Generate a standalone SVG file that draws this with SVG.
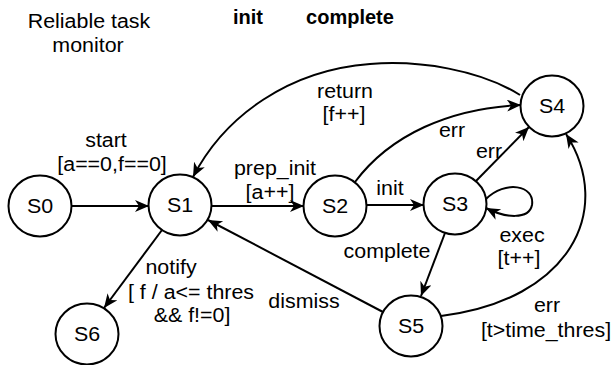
<svg xmlns="http://www.w3.org/2000/svg" width="612" height="365" viewBox="0 0 612 365">
<defs>
<marker id="arr" markerUnits="userSpaceOnUse" markerWidth="16" markerHeight="14" refX="14" refY="6" orient="auto">
<path d="M0,0 L14,6 L0,12 L4,6 z" fill="#000"/>
</marker>
<style>
.n{fill:#fff;stroke:#000;stroke-width:2}
.e{fill:none;stroke:#000;stroke-width:2;marker-end:url(#arr)}
.t{font-family:"Liberation Sans",Arial,sans-serif;font-size:20px;text-anchor:middle;fill:#000}
.b{font-family:"Liberation Sans",Arial,sans-serif;font-size:20px;font-weight:bold;text-anchor:middle;fill:#000}
</style>
</defs>
<rect width="612" height="365" fill="#fff"/>
<g id="title">
<text class="t" transform="translate(89,28) scale(1.07,1)">Reliable task</text>
<text class="t" transform="translate(88,52) scale(1.07,1)">monitor</text>
<text class="b" x="248" y="24">init</text>
<text class="b" x="350" y="24">complete</text>
</g>
<g id="connectors">
<g id="e-s0-s1"><path class="e" d="M72,206 L149,206"/>
<text class="t" transform="translate(106,147) scale(1.07,1)">start</text>
<text class="t" transform="translate(112,171) scale(1.07,1)">[a==0,f==0]</text></g>
<g id="e-s1-s2"><path class="e" d="M212,206 L304,206"/>
<text class="t" transform="translate(275,175) scale(1.07,1)">prep_init</text>
<text class="t" transform="translate(270,199) scale(1.07,1)">[a++]</text></g>
<g id="e-s2-s3"><path class="e" d="M367,205 L424,205"/>
<text class="t" transform="translate(390,195) scale(1.07,1)">init</text></g>
<g id="e-s4-s1"><path class="e" d="M520,95 C480,70 420,60 370,64 C290,70 225,115 193,177"/>
<text class="t" transform="translate(345,98) scale(1.07,1)">return</text>
<text class="t" transform="translate(344,121) scale(1.07,1)">[f++]</text></g>
<g id="e-s2-s4"><path class="e" d="M355,182 C390,135 450,108 521,105"/>
<text class="t" transform="translate(452,137) scale(1.07,1)">err</text></g>
<g id="e-s3-s4"><path class="e" d="M476,181 L529,127"/>
<text class="t" transform="translate(489,158) scale(1.07,1)">err</text></g>
<g id="e-s3-s3"><path class="e" d="M486,199 C505,180 535,185 532,205 C529,220 505,218 486,208"/>
<text class="t" transform="translate(522,242) scale(1.07,1)">exec</text>
<text class="t" transform="translate(519,265) scale(1.07,1)">[t++]</text></g>
<g id="e-s3-s5"><path class="e" d="M445,233 L421,296"/>
<text class="t" transform="translate(387,258) scale(1.07,1)">complete</text></g>
<g id="e-s5-s4"><path class="e" d="M441,316 C570,300 615,210 566,134"/>
<text class="t" transform="translate(547,312) scale(1.07,1)">err</text>
<text class="t" transform="translate(546,337) scale(1.07,1)">[t&gt;time_thres]</text></g>
<g id="e-s5-s1"><path class="e" d="M383,312 L208,220"/>
<text class="t" transform="translate(304,308) scale(1.07,1)">dismiss</text></g>
<g id="e-s1-s6"><path class="e" d="M162,230 L104,308"/>
<text class="t" transform="translate(171,274) scale(1.07,1)">notify</text>
<text class="t" transform="translate(191,299) scale(1.07,1)">[ f / a&lt;= thres</text>
<text class="t" transform="translate(192,322) scale(1.07,1)">&amp;&amp; f!=0]</text></g>
</g>
<g id="S0"><ellipse class="n" cx="40" cy="206" rx="31.5" ry="30.5"/><text class="t" transform="translate(40,213) scale(1.07,1)">S0</text></g>
<g id="S1"><ellipse class="n" cx="180" cy="205" rx="31.5" ry="30.5"/><text class="t" transform="translate(180,212) scale(1.07,1)">S1</text></g>
<g id="S2"><ellipse class="n" cx="335" cy="206" rx="31.5" ry="30.5"/><text class="t" transform="translate(335,213) scale(1.07,1)">S2</text></g>
<g id="S3"><ellipse class="n" cx="455" cy="204" rx="31.5" ry="30.5"/><text class="t" transform="translate(455,211) scale(1.07,1)">S3</text></g>
<g id="S4"><ellipse class="n" cx="552" cy="106" rx="31.5" ry="30.5"/><text class="t" transform="translate(552,113) scale(1.07,1)">S4</text></g>
<g id="S5"><ellipse class="n" cx="411" cy="326" rx="31.5" ry="30.5"/><text class="t" transform="translate(411,333) scale(1.07,1)">S5</text></g>
<g id="S6"><ellipse class="n" cx="87" cy="334" rx="31.5" ry="30.5"/><text class="t" transform="translate(87,341) scale(1.07,1)">S6</text></g>
</svg>
